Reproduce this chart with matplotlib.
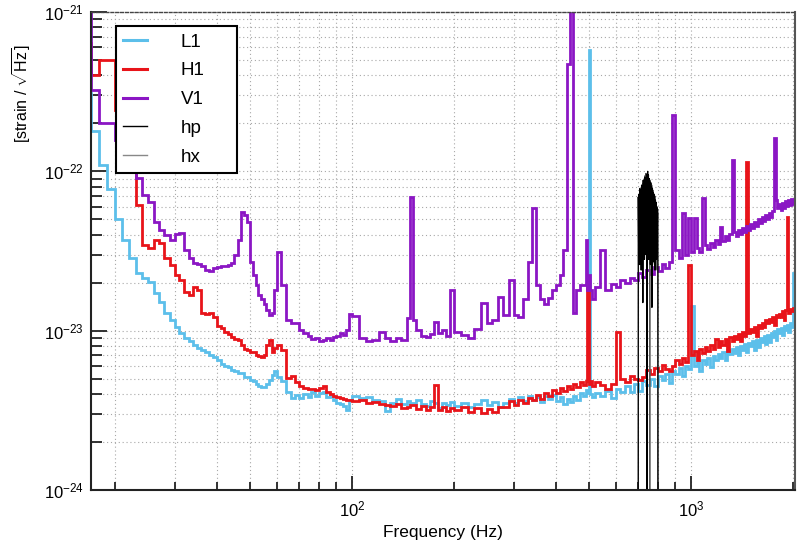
import numpy as np
import matplotlib
matplotlib.use("Agg")
import matplotlib.pyplot as plt
from matplotlib.lines import Line2D
from matplotlib.ticker import FixedLocator, NullFormatter, LogFormatterSciNotation

plt.rcParams["font.family"] = ["Liberation Sans", "DejaVu Sans"]
plt.rcParams["mathtext.fontset"] = "custom"
plt.rcParams["mathtext.rm"] = "Liberation Sans"
plt.rcParams["mathtext.it"] = "Liberation Sans:italic"
plt.rcParams["mathtext.bf"] = "Liberation Sans:bold"

UNIT = 1e-24  # all ASD values below are in units of 1e-24 strain/sqrt(Hz)

# ---- bin edges (Hz), shared by the three detector spectra ----
freq_edges = [
    16, 17, 18, 19, 20, 21, 22, 23, 24, 25, 26, 27, 28, 29, 30, 31, 32, 33, 34, 35,
    36, 37, 38, 39, 40, 41, 42, 43, 44, 45, 46, 47, 48, 49, 50, 51, 52, 53, 54, 55,
    56, 57, 58, 59, 60,
    62, 64, 66, 68, 70, 72, 74, 76, 78, 80, 82, 84, 86, 88, 90, 92, 94, 96, 98,
    100, 105, 110, 115, 120, 125, 130, 135, 140, 145, 148, 152, 155, 160, 165, 170,
    175, 180, 185, 190, 195,
    200, 210, 220, 230, 240, 250, 260, 270, 280, 290, 300, 310, 320, 330, 340, 350,
    360, 370, 380, 390, 400, 410, 420, 430, 440, 450, 460, 470, 480, 490,
    495, 500, 505, 510,
    520, 540, 560, 580, 600, 620, 640, 660, 680, 700, 720, 740, 760, 780, 800, 820,
    840, 860, 880, 900, 920, 940, 960, 980, 1000, 1020, 1040, 1060, 1080, 1100, 1120,
    1140, 1160, 1180, 1200, 1220, 1240, 1260, 1280, 1300, 1320, 1340, 1360, 1380,
    1400, 1420, 1440, 1460, 1480, 1500, 1520, 1540, 1560, 1580, 1600, 1620, 1640,
    1660, 1680, 1700, 1720, 1740, 1760, 1780, 1800, 1820, 1840, 1860, 1880, 1900,
    1920, 1940, 1960, 1980, 2000, 2020, 2040, 2060,
]

asd_l1 = [
    312, 178, 110, 77, 50, 37, 28.7, 23.1, 21.5, 20.3, 17.3, 15.2, 13.0, 11.7, 10.6,
    9.7, 9.0, 8.65, 8.17, 7.8, 7.6, 7.4, 7.0, 6.87, 6.58, 6.2, 6.0, 5.94, 5.69, 5.6,
    5.45, 5.4, 5.1, 5.1, 4.92, 4.85, 4.65, 4.5, 4.45, 4.45, 4.6, 4.9, 5.3, 5.6, 5.1,
    4.8, 4.15, 3.8, 3.97, 3.8, 4.0, 3.85, 4.15, 3.9, 4.08, 4.15, 3.85, 3.9, 3.69,
    3.53, 3.48, 3.38, 3.19, 3.69,
    3.9, 3.8, 3.85, 3.69, 3.6, 3.15, 3.53, 3.75, 3.48, 3.6, 3.53, 3.53, 3.69, 3.48,
    3.38, 3.64, 3.53, 3.28, 3.53, 3.43, 3.58,
    3.38, 3.53, 3.33, 3.48, 3.69, 3.43, 3.58, 3.33, 3.53, 3.74, 3.53, 3.85, 3.64,
    3.91, 3.69, 3.85, 3.58, 3.91, 3.74, 3.97, 3.64, 3.85, 3.48, 3.74, 3.58, 3.91,
    3.69, 4.08, 3.91, 4.26,
    4.08, 580, 4.02, 3.85,
    4.08, 3.91, 4.20, 3.8, 4.32, 4.14, 4.52, 4.1, 4.65, 4.2, 4.85, 4.58, 5.0, 4.5,
    5.22, 4.92, 5.37, 4.7, 5.61, 5.37, 5.86, 5.2, 6.03, 5.77, 14.2, 6.03, 6.39, 5.6,
    6.58, 6.21, 6.77, 5.9, 6.97, 6.58, 7.17, 6.77, 7.38, 6.5, 7.6, 7.17, 7.71, 7.28,
    7.94, 7.0, 8.05, 7.6, 8.29, 7.3, 8.41, 8.05, 8.66, 7.6, 8.78, 7.9, 9.04, 8.53,
    9.30, 8.2, 9.44, 8.5, 9.71, 9.17, 10.0, 8.8, 10.3, 9.71, 10.4, 9.4, 10.75,
    10.15, 10.9, 9.8, 11.1, 10.6, 23.1, 11.2, 10.75,
]

asd_h1 = [
    643, 405, 503, 503, 244, 158, 110, 61.8, 34.7, 33.2, 37.2, 35.7, 28.7, 26.0, 22.5,
    20.9, 17.6, 16.8, 18.9, 18.1, 13.0, 12.8, 13.0, 12.1, 10.75, 10.4, 9.86, 9.58,
    9.17, 8.91, 8.78, 8.17, 7.71, 7.6, 7.38, 7.38, 7.07, 6.97, 6.87, 7.07, 8.17, 8.78,
    7.38, 7.82, 8.17,
    7.6, 5.07, 5.22, 4.78, 4.52, 4.39, 4.32, 4.32, 4.26, 4.39, 4.52, 4.14, 4.02, 3.91,
    3.85, 3.80, 3.74, 3.69, 3.69,
    3.64, 3.69, 3.53, 3.58, 3.48, 3.43, 3.38, 3.48, 3.28, 3.33, 3.43, 3.43, 3.24,
    3.38, 3.19, 3.33, 4.58, 3.19, 3.33, 3.15, 3.28,
    3.19, 3.33, 3.10, 3.28, 3.06, 3.24, 3.10, 3.33, 3.3, 3.6, 3.4, 3.65, 3.5, 3.8,
    3.65, 3.95, 3.75, 4.05, 3.9, 4.25, 4.05, 4.35, 4.2, 4.5, 4.3, 4.6, 4.45, 4.75,
    4.55, 4.85,
    19.4, 4.65, 4.85, 4.52,
    4.78, 4.58, 4.3, 4.65, 9.86, 5.0, 4.78, 5.22, 5.0, 4.9, 5.14, 5.69, 5.37, 5.86,
    5.61, 6.12, 5.77, 5.6, 6.03, 6.58, 6.21, 6.77, 6.39, 26.0, 7.07, 7.49, 6.5,
    7.71, 7.28, 7.94, 7.49, 8.17, 7.71, 8.9, 7.94, 8.66, 8.17, 8.91, 7.5, 9.17,
    8.66, 9.30, 8.91, 9.58, 8.6, 9.86, 9.30, 115, 9.71, 10.3, 9.86, 10.6, 9.3,
    10.9, 10.4, 11.2, 10.6, 11.6, 11.1, 11.9, 11.4, 12.2, 10.8, 12.6, 12.1, 12.8,
    12.2, 13.2, 11.6, 13.4, 51.9, 13.0, 13.7, 13.2, 13.9, 13.4, 14.0,
]

asd_v1 = [
    1100, 326, 202, 202, 158, 137, 122, 91.3, 71.4, 64.5, 48.3, 43.0, 40.0, 37.2,
    40.6, 41.2, 32.2, 28.7, 26.7, 26.3, 25.6, 24.1, 23.8, 24.9, 25.2, 25.6, 25.6,
    26.0, 26.7, 30.0, 37.2, 55.8, 53.5, 48.3, 27.1, 22.5, 19.4, 16.8, 15.7, 14.6,
    13.5, 12.6, 13.0, 18.1, 31.3,
    19.4, 11.7, 11.1, 11.2, 10.15, 9.71, 9.30, 8.91, 9.04, 8.66, 8.78, 9.04, 8.78,
    9.17, 9.30, 9.71, 9.44, 10.15, 12.8,
    12.4, 9.04, 8.66, 8.78, 9.86, 9.04, 8.66, 9.04, 8.78, 12.0, 69.4, 11.7, 10.15,
    9.30, 9.17, 9.58, 11.4, 9.71, 10.15, 9.30, 18.1,
    9.86, 9.44, 9.04, 10.3, 15.0, 11.2, 11.7, 16.3, 12.6, 20.9, 12.6, 12.1, 15.7,
    27.1, 59.2, 19.4, 15.7, 14.6, 16.1, 18.1, 19.4, 22.5, 32.2, 474, 1500, 13.0,
    18.1, 19.4, 19.4, 37.2,
    18.1, 22.5, 18.1, 15.7,
    18.9, 32.2, 18.1, 19.7, 18.9, 20.9, 20.0, 21.5, 20.9, 23.1, 21.8, 24.1, 22.8,
    25.2, 23.8, 26.3, 24.9, 27.1, 227, 32.2, 28.7, 55.0, 30.0, 51.2, 31.3, 51.2,
    33.2, 31.3, 68.5, 34.7, 32.7, 35.7, 33.7, 37.2, 35.2, 45.0, 36.7, 39.5, 37.2,
    40.6, 118, 41.9, 39.5, 43.0, 40.6, 44.3, 41.9, 45.6, 43.0, 46.9, 44.3, 48.3,
    45.6, 50.4, 47.6, 51.9, 49.0, 53.5, 50.4, 55.0, 51.9, 56.7, 163, 66.4, 59.2,
    62.8, 57.4, 63.5, 59.2, 65.4, 60.9, 66.4, 61.6, 67.4, 62.8, 66.4, 63.0,
]

# ---- injected signal polarisations, 700-800 Hz ----
hp_freq = [
    699.0, 700, 702, 704, 706, 708, 710, 712, 714, 716, 718, 720, 722, 724, 726, 728,
    730, 732, 734, 736, 738, 740, 742.5, 743.0, 743.5, 746, 748, 750, 752, 754, 756,
    758, 760, 762, 764, 766, 768, 770, 772, 774, 776, 778, 780, 782, 784, 786, 788,
    790, 792, 794, 796, 798, 800, 801,
]
hp_asd = [
    1e-6, 69, 30, 72, 26, 78, 33, 74, 24, 82, 36, 80, 15, 88, 38, 85, 28, 92, 42, 90,
    30, 96, 40, 0.13, 45, 100, 36, 95, 28, 90, 44, 86, 26, 84, 38, 80, 14, 78, 40,
    74, 27, 72, 37, 70, 24, 66, 35, 64, 28, 60, 33, 58, 23, 1e-6,
]
hx_freq = [
    699.5, 701, 703, 705, 707, 709, 711, 713, 715, 717, 719, 721, 723, 725, 727, 729,
    731, 733, 735, 737, 739, 741, 743, 745, 747, 749, 751, 753, 755, 756.5, 757.0,
    757.5, 759, 761, 763, 765, 767, 769, 771, 773, 775, 777, 779, 781, 783, 785, 787,
    789, 791, 793, 795, 797, 799, 800.5,
]
hx_asd = [
    1e-6, 60, 32, 66, 28, 70, 36, 75, 26, 80, 40, 84, 29, 88, 44, 90, 32, 94, 46, 97,
    35, 92, 48, 98, 38, 94, 50, 90, 36, 45, 0.13, 42, 88, 40, 85, 30, 82, 44, 78, 28,
    76, 40, 72, 26, 70, 38, 66, 24, 62, 36, 58, 28, 55, 1e-6,
]

x_major = [1e2, 1e3]
y_major = [1e-24, 1e-23, 1e-22, 1e-21]

C_L1, C_H1, C_V1 = "#5cbfea", "#e8141a", "#8b16c4"

fig = plt.figure(figsize=(7.99, 5.45), dpi=100)
ax = fig.add_axes([0.1139, 0.1009, 0.8811, 0.8771])
ax.set_xscale("log")
ax.set_yscale("log")

edges = np.array(freq_edges, dtype=float)
ax.stairs(np.array(asd_l1) * UNIT, edges, baseline=None, color=C_L1, lw=2.0)
ax.stairs(np.array(asd_h1) * UNIT, edges, baseline=None, color=C_H1, lw=2.0)
ax.stairs(np.array(asd_v1) * UNIT, edges, baseline=None, color=C_V1, lw=2.0)
ax.plot(hx_freq, np.array(hx_asd) * UNIT, color="#5a5a5a", lw=0.8)
ax.plot(hp_freq, np.array(hp_asd) * UNIT, color="black", lw=0.9)

xlo, xhi = 17.0, 2030
ylo, yhi = 1e-24, 1e-21
ax.set_xlim(xlo, xhi)
ax.set_ylim(ylo, yhi)

# ticks only inside the visible range (no stray labels outside the frame)
x_minor = [m * d for d in (10, 100, 1000) for m in range(2, 10) if xlo <= m * d <= xhi]
y_minor = [m * d for d in (1e-24, 1e-23, 1e-22) for m in range(2, 10)]
ax.xaxis.set_major_locator(FixedLocator(x_major))
ax.yaxis.set_major_locator(FixedLocator(y_major))
ax.xaxis.set_minor_locator(FixedLocator(x_minor))
ax.yaxis.set_minor_locator(FixedLocator(y_minor))
ax.xaxis.set_major_formatter(LogFormatterSciNotation())
ax.yaxis.set_major_formatter(LogFormatterSciNotation())
ax.xaxis.set_minor_formatter(NullFormatter())
ax.yaxis.set_minor_formatter(NullFormatter())

# ROOT-ish frame: inward ticks on left/bottom, dotted grid everywhere
ax.set_axisbelow(True)
ax.grid(True, which="both", ls=(0, (1, 2.5)), color="#a8a8a8", lw=0.8)
ax.tick_params(which="both", direction="in", top=False, right=False,
               color="#222222", width=1.3, labelsize=12)
ax.tick_params(axis="y", which="major", length=11.5, pad=5)
ax.tick_params(axis="y", which="minor", length=8)
ax.tick_params(axis="x", which="major", length=10, pad=7)
ax.tick_params(axis="x", which="minor", length=5.5)
for s in ("left", "bottom"):
    ax.spines[s].set_linewidth(1.5)
    ax.spines[s].set_color("#222222")
ax.spines["right"].set_linewidth(1.5)
ax.spines["right"].set_color("#555555")
ax.spines["top"].set_linewidth(1.0)
ax.spines["top"].set_color("#444444")
ax.spines["top"].set_linestyle((0, (2, 1.5)))

ax.set_xlabel("Frequency (Hz)", fontsize=12.5, labelpad=4)
ax.set_ylabel(r"[strain / $\sqrt{\mathrm{Hz}}$]", fontsize=11.5)
ax.yaxis.set_label_coords(-0.082, 0.83)

handles = [
    Line2D([], [], color=C_L1, lw=2.2),
    Line2D([], [], color=C_H1, lw=2.2),
    Line2D([], [], color=C_V1, lw=2.2),
    Line2D([], [], color="black", lw=1.0),
    Line2D([], [], color="#888888", lw=1.0),
]
leg = ax.legend(handles, ["L1", "H1", "V1", "hp", "hx"], loc="upper left",
                bbox_to_anchor=(0.0355, 0.6, 0.1719, 0.3707), mode="expand",
                borderaxespad=0, fontsize=13.5, handlelength=1.25,
                handletextpad=1.8, labelspacing=0.62, borderpad=0.4,
                fancybox=False, framealpha=1, edgecolor="black")
leg.get_frame().set_linewidth(1.5)

fig.savefig("out.png", dpi=100)
